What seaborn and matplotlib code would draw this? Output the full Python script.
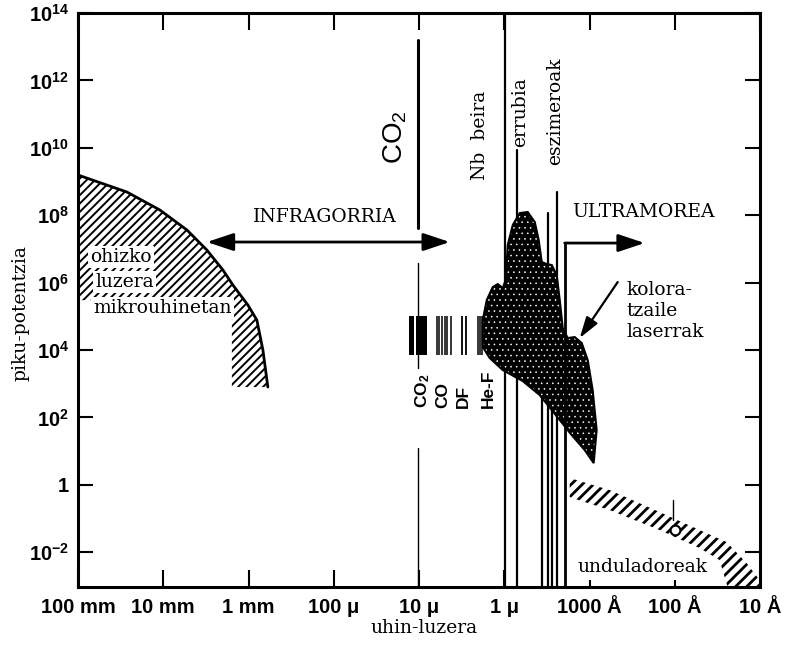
import numpy as np
import matplotlib
matplotlib.use("Agg")
import matplotlib.pyplot as plt
import seaborn as sns
from matplotlib.ticker import NullLocator

# wavelength in micrometres, peak power in W (shapes kept as log10 values)
x_ticks = [1e5, 1e4, 1e3, 1e2, 1e1, 1e0, 1e-1, 1e-2, 1e-3]
x_labels = ["100 mm", "10 mm", "1 mm", "100 μ", "10 μ", "1 μ", "1000 Å", "100 Å", "10 Å"]
y_ticks = [1e14, 1e12, 1e10, 1e8, 1e6, 1e4, 1e2, 1e0, 1e-2]
y_labels = [r"$10^{14}$", r"$10^{12}$", r"$10^{10}$", r"$10^{8}$", r"$10^{6}$",
            r"$10^{4}$", r"$10^{2}$", "1", r"$10^{-2}$"]
y_bottom = 10 ** -3.03
y_top = 1e14

# microwave sources: outer arc (first 11 points) and closing corner
mw_lam = 10 ** np.array([5.0, 4.426, 4.039, 3.722, 3.488, 3.300, 3.183, 3.007, 2.902,
                         2.831, 2.773, 3.195, 3.195, 5.0])
mw_pow = 10 ** np.array([9.193, 8.688, 8.154, 7.561, 6.967, 6.374, 5.929, 5.335, 4.890,
                         4.0, 2.902, 2.902, 5.48, 5.48])

# Nd glass / ruby / excimer / dye lasers envelope
blob_lam = 10 ** np.array([0.252, 0.252, 0.205, 0.135, 0.076, 0.018, -0.017, -0.041, -0.100,
                           -0.182, -0.275, -0.358, -0.404, -0.440, -0.498, -0.557, -0.615,
                           -0.651, -0.686, -0.744, -0.826, -0.909, -0.979, -1.037, -1.084,
                           -1.049, -0.944, -0.791, -0.651, -0.416, -0.217, 0.018, 0.170])
blob_pow = 10 ** np.array([4.089, 4.890, 5.484, 5.869, 5.958, 5.840, 6.077, 7.116, 7.709,
                           8.065, 8.095, 7.798, 7.264, 6.611, 6.552, 6.522, 6.226,
                           5.484, 4.653, 4.356, 4.386, 4.208, 3.703, 2.813, 1.626,
                           0.647, 1.033, 1.478, 1.923, 2.665, 3.080, 3.407, 3.763])

# undulators band
und_lam = 10 ** np.array([-0.768, -1.237, -1.823, -2.292, -2.608, -2.843, -2.995, -2.995,
                          -2.620, -2.526, -2.292, -1.823, -1.237, -0.768])
und_pow = 10 ** np.array([0.202, -0.154, -0.807, -1.341, -1.697, -2.320, -2.825, -3.03,
                          -3.03, -2.231, -1.875, -1.341, -0.748, -0.362])

# molecular gas laser lines
bar_lo, bar_hi = 10 ** 3.852, 10 ** 5.009
co2_blocks = [(10 ** 1.120, 10 ** 1.062), (10 ** 1.038, 10 ** 0.909)]
co_lines = 10 ** np.array([0.791, 0.768, 0.733, 0.698, 0.674, 0.627])
df_lines = 10 ** np.array([0.498, 0.451])
hf_lines = 10 ** np.array([0.311, 0.288, 0.265])

# CO2 marker line segments (low, high, width)
co2_lam = 10 ** 1.014
co2_segments = [(10 ** 7.62, 10 ** 13.2, 2.2), (10 ** 3.47, 10 ** 6.58, 1.0), (y_bottom, 10 ** 1.09, 1.0)]

# vertical lines under the solid-state lasers (lam, top)
drop_lam = 10 ** np.array([-0.006, -0.147, -0.440, -0.510, -0.557, -0.615])
drop_top = 10 ** np.array([14.0, 9.94, 5.5, 8.065, 5.5, 8.688])

sns.set_theme(style="ticks")
plt.rcParams.update({
    "font.family": ["DejaVu Serif"],
    "mathtext.default": "regular",
    "axes.edgecolor": "black",
    "axes.linewidth": 2.2,
    "xtick.color": "black",
    "ytick.color": "black",
    "hatch.color": "black",
})

fig = plt.figure(figsize=(7.9, 6.47), dpi=100)
ax = fig.add_axes([78 / 790, 60 / 647, 682 / 790, 574 / 647])
ax.set_xscale("log")
ax.set_yscale("log")
ax.set_xlim(1e5, 1e-3)
ax.set_ylim(y_bottom, y_top)


def hatched(lam, pw, hatch, hlw, **kw):
    with plt.rc_context({"hatch.linewidth": hlw}):
        poly = ax.fill(lam, pw, hatch=hatch, **kw)[0]
    if hasattr(poly, "set_hatch_linewidth"):
        poly.set_hatch_linewidth(hlw)
    return poly


# microwave region
hatched(mw_lam, mw_pow, "////", 1.4, facecolor="white", edgecolor="black", lw=0, zorder=2)
sns.lineplot(x=mw_lam[:11], y=mw_pow[:11], sort=False, color="black", lw=2, ax=ax, zorder=3)

# vertical lines
for lam, top in zip(drop_lam, drop_top):
    ax.plot([lam, lam], [y_bottom, top], color="black", lw=1.6, zorder=2)
for lo, hi, w in co2_segments:
    ax.plot([co2_lam, co2_lam], [lo, hi], color="black", lw=w, zorder=2)

# laser envelope, black with white speckles
hatched(blob_lam, blob_pow, "...", 0.4, facecolor="black", edgecolor="white", lw=0, zorder=3)
ax.fill(blob_lam, blob_pow, facecolor="none", edgecolor="black", lw=1.5, zorder=4)

# gas laser bars
for a, b in co2_blocks:
    ax.fill_between([a, b], bar_lo, bar_hi, color="black", lw=0, zorder=3)
ax.vlines(co_lines, bar_lo, bar_hi, color="black", lw=1.1, zorder=3)
ax.vlines(df_lines, bar_lo, bar_hi, color="black", lw=1.3, zorder=3)
ax.vlines(hf_lines, bar_lo, bar_hi, color="black", lw=1.1, zorder=3)

# undulators
hatched(und_lam, und_pow, "///", 2.0, facecolor="white", edgecolor="black", lw=0, zorder=2)
ax.plot([10 ** -1.975, 10 ** -1.975], [10 ** -0.451, 10 ** -1.045], color="black", lw=1, zorder=3)
ax.plot(10 ** -1.999, 10 ** -1.341, marker="o", ms=7, mfc="white", mec="black", mew=1.5, zorder=4)

# arrows
arrow_kw = dict(color="black", lw=2, shrinkA=0, shrinkB=0, mutation_scale=18)
ax.annotate("", xy=(10 ** 3.488, 10 ** 7.205), xytext=(10 ** 0.639, 10 ** 7.205),
            arrowprops=dict(arrowstyle="<|-|>,head_length=0.9,head_width=0.3", **arrow_kw))
ax.plot([10 ** -0.709, 10 ** -0.709], [y_bottom, 10 ** 7.175], color="black", lw=2, zorder=3)
ax.annotate("", xy=(10 ** -1.647, 10 ** 7.175), xytext=(10 ** -0.709, 10 ** 7.175),
            arrowprops=dict(arrowstyle="-|>,head_length=0.9,head_width=0.3", **arrow_kw))
ax.annotate("", xy=(10 ** -0.885, 10 ** 4.356), xytext=(10 ** -1.331, 10 ** 6.018),
            arrowprops=dict(arrowstyle="-|>,head_length=0.8,head_width=0.25",
                            color="black", lw=1.6, shrinkA=0, shrinkB=0, mutation_scale=16))

# texts
serif = dict(family="DejaVu Serif", fontsize=13.5, color="black", zorder=6)
box = dict(facecolor="white", edgecolor="none", pad=1.5)
ax.text(10 ** 2.104, 10 ** 7.947, "INFRAGORRIA", ha="center", va="center", **serif)
ax.text(10 ** -1.635, 10 ** 8.095, "ULTRAMOREA", ha="center", va="center", **serif)
ax.text(10 ** 0.287, 10 ** 9.045, "Nb  beira", rotation=90, ha="center", va="bottom", **serif)
ax.text(10 ** -0.182, 10 ** 10.02, "errubia", rotation=90, ha="center", va="bottom", **serif)
ax.text(10 ** -0.592, 10 ** 9.49, "eszimeroak", rotation=90, ha="center", va="bottom", **serif)
for lam, pw, s in [(4.859, 6.760, "ohizko"), (4.80, 6.018, "luzera"), (4.824, 5.246, "mikrouhinetan")]:
    ax.text(10 ** lam, 10 ** pw, s, ha="left", va="center", bbox=box, **serif)
for pw, s in [(5.780, "kolora-"), (5.157, "tzaile"), (4.534, "laserrak")]:
    ax.text(10 ** -1.436, 10 ** pw, s, ha="left", va="center", **serif)
ax.text(10 ** -0.862, 10 ** -2.439, "unduladoreak", ha="left", va="center",
        bbox=dict(facecolor="white", edgecolor="none", pad=2.5), **serif)

sans = dict(family="Liberation Sans", color="black", zorder=6)
ax.text(10 ** 1.284, 10 ** 10.32, r"CO$_2$", rotation=90, ha="center", va="center", fontsize=20, **sans)
for lam, s in [(0.955, r"CO$_2$"), (0.716, "CO"), (0.475, "DF"), (0.190, "He-F")]:
    ax.text(10 ** lam, 10 ** 2.279, s, rotation=90, ha="center", va="bottom",
            fontsize=12.5, fontweight="bold", **sans)

ax.text(0.507, -0.071, "uhin-luzera", transform=ax.transAxes, ha="center", va="center", **serif)
ax.text(-0.085, 0.477, "piku-potentzia", transform=ax.transAxes, rotation=90,
        ha="center", va="center", **serif)

# axes ticks
ax.set_xticks(x_ticks)
ax.set_xticklabels(x_labels, family="Liberation Sans", fontweight="bold", fontsize=14.5)
ax.set_yticks(y_ticks)
ax.set_yticklabels(y_labels, family="Liberation Sans", fontweight="bold", fontsize=14.5)
ax.xaxis.set_minor_locator(NullLocator())
ax.yaxis.set_minor_locator(NullLocator())
ax.tick_params(axis="x", direction="in", top=True, bottom=True, length=12, width=1.5, pad=8)
ax.tick_params(axis="y", direction="in", left=True, right=True, length=11, width=1.5, pad=6.5)

fig.savefig("out.png", dpi=100)
